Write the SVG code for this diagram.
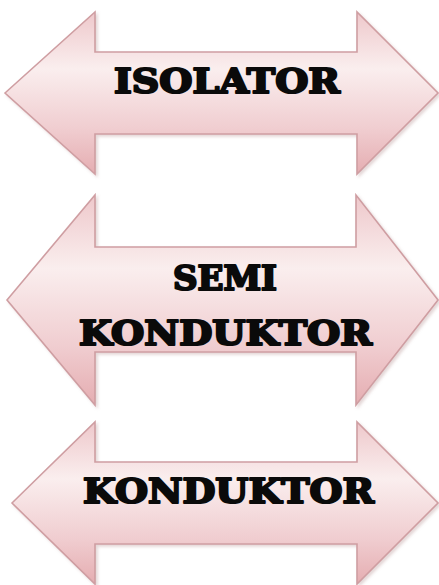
<svg xmlns="http://www.w3.org/2000/svg" width="439" height="585" viewBox="0 0 439 585">
  <defs>
    <linearGradient id="fillGrad" x1="0" y1="0" x2="0" y2="1">
      <stop offset="0" stop-color="#eec8cb"/>
      <stop offset="0.35" stop-color="#faeeee"/>
      <stop offset="0.72" stop-color="#f0cdd0"/>
      <stop offset="1" stop-color="#e5adb1"/>
    </linearGradient>
    <filter id="shadow" x="-5%" y="-5%" width="115%" height="115%">
      <feDropShadow dx="2" dy="2" stdDeviation="1.5" flood-color="#b08a8c" flood-opacity="0.35"/>
    </filter>
  </defs>
  <style>
    .arrow { fill: url(#fillGrad); stroke: #cf9ea2; stroke-width: 1.6; stroke-linejoin: miter; filter: url(#shadow); }
    .label { font-family: "DejaVu Serif", "Liberation Serif", serif; font-weight: bold; fill: #0a0a0a; stroke: #0a0a0a; stroke-width: 2.2; stroke-linejoin: round; text-anchor: start; }
  </style>
  <rect width="439" height="585" fill="#ffffff"/>
  <g id="connectors"/>
  <g id="isolator">
    <path class="arrow" d="M5,93 L95,12 L95,52 L357,52 L357,12 L438,93 L357,174 L357,134 L95,134 L95,174 Z"/>
    <text class="label" x="114" y="93" font-size="34" textLength="226" lengthAdjust="spacingAndGlyphs">ISOLATOR</text>
  </g>
  <g id="semikonduktor">
    <path class="arrow" d="M7,300 L95,195 L95,247 L356,247 L356,195 L438,300 L356,405 L356,352 L95,352 L95,405 Z"/>
    <text class="label" x="173" y="290" font-size="33" textLength="104" lengthAdjust="spacingAndGlyphs">SEMI</text>
    <text class="label" x="79" y="345" font-size="33" textLength="293" lengthAdjust="spacingAndGlyphs">KONDUKTOR</text>
  </g>
  <g id="konduktor">
    <path class="arrow" d="M12,503 L95,422 L95,462 L357,462 L357,422 L438,503 L357,584 L357,544 L95,544 L95,584 Z"/>
    <text class="label" x="83" y="503" font-size="34" textLength="291" lengthAdjust="spacingAndGlyphs">KONDUKTOR</text>
  </g>
</svg>
